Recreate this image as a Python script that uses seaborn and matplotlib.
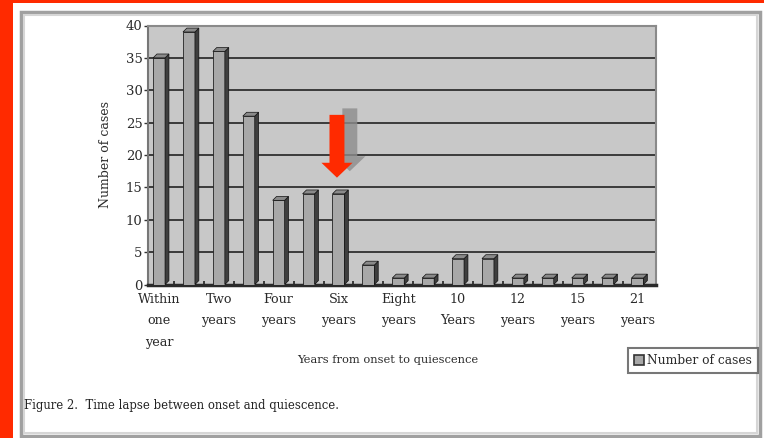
import matplotlib
matplotlib.use("Agg")
import matplotlib.pyplot as plt
from matplotlib.patches import Rectangle, Polygon, FancyArrow, Patch
import pandas as pd
import seaborn as sns

# Time from onset to quiescence (one bar per period)
periods = ["Within one year", "One year", "Two years", "Three years", "Four years",
           "Five years", "Six years", "Seven years", "Eight years", "Nine years",
           "10 Years", "11 years", "12 years", "13 years", "15 years", "18 years",
           "21 years"]
cases = [35, 39, 36, 26, 13, 14, 14, 3, 1, 1, 4, 4, 1, 1, 1, 1, 1]
tick_labels = ["Within\none\nyear", "", "Two\nyears", "", "Four\nyears", "",
               "Six\nyears", "", "Eight\nyears", "", "10\nYears", "",
               "12\nyears", "", "15\nyears", "", "21\nyears"]
y_ticks = [0, 5, 10, 15, 20, 25, 30, 35, 40]
highlight_period = "Six years"

df = pd.DataFrame({"period": periods, "cases": cases})

sns.set_theme(style="white")
plt.rcParams["font.family"] = ["DejaVu Serif", "Liberation Serif"]

TXT = "#2a2a2a"
W, H = 764, 438
fig = plt.figure(figsize=(W / 100, H / 100), dpi=100, facecolor="white")

# page decoration: red margin and bevelled frame
fig.patches.append(Rectangle((0, 0), 13 / W, 1, transform=fig.transFigure,
                             facecolor="#ff2a00", edgecolor="none", zorder=0))
fig.patches.append(Rectangle((0, 1 - 3 / H), 1, 3 / H, transform=fig.transFigure,
                             facecolor="#ff2a00", edgecolor="none", zorder=0))
fig.patches.append(Rectangle((21 / W, 2 / H), 739 / W, (H - 14) / H,
                             transform=fig.transFigure, facecolor="none",
                             edgecolor="#a0a0a0", linewidth=2.5, zorder=0))
fig.patches.append(Rectangle((24 / W, 5 / H), 733 / W, (H - 20) / H,
                             transform=fig.transFigure, facecolor="none",
                             edgecolor="#d6d6d6", linewidth=1.5, zorder=0))

ax = fig.add_axes([148 / W, 1 - 284.5 / H, (656 - 148) / W, (284.5 - 25.5) / H])
ax.set_facecolor("#c8c8c8")

sns.barplot(data=df, x="period", y="cases", order=periods, color="#a8a8a8",
            width=0.40, saturation=1, edgecolor="#222222", linewidth=0.6,
            ax=ax, zorder=3, label="Number of cases", legend=False)

ax.set_xlim(-0.37, 16.62)
ax.set_ylim(0, 40)

# depth faces for the 3-D look
dx, dy = 0.13, 0.6
for p in ax.patches[:len(cases)]:
    x0, w, h = p.get_x(), p.get_width(), p.get_height()
    side = [(x0 + w, 0), (x0 + w + dx, dy), (x0 + w + dx, h + dy), (x0 + w, h)]
    top = [(x0, h), (x0 + dx, h + dy), (x0 + w + dx, h + dy), (x0 + w, h)]
    ax.add_patch(Polygon(side, closed=True, facecolor="#3e3e3e",
                         edgecolor="#111111", linewidth=0.5, zorder=3))
    ax.add_patch(Polygon(top, closed=True, facecolor="#8a8a8a",
                         edgecolor="#111111", linewidth=0.5, zorder=3))

# grid lines and axis styling
ax.set_yticks(y_ticks)
ax.yaxis.grid(True, color="#303030", linewidth=1.3, zorder=1)
ax.set_axisbelow(True)
for s in ["top", "right"]:
    ax.spines[s].set_color("#8a8a8a")
    ax.spines[s].set_linewidth(1.5)
ax.spines["left"].set_color("#777777")
ax.spines["left"].set_linewidth(1.5)
ax.spines["bottom"].set_color("#2a2a2a")
ax.spines["bottom"].set_linewidth(2.5)

ax.set_xticks(range(len(periods)))
ax.set_xticklabels(tick_labels, fontsize=9.2, color=TXT,
                   linespacing=1.85, va="top")
ax.set_xticks([i + 0.5 for i in range(len(periods) - 1)], minor=True)
ax.tick_params(axis="x", which="major", length=0, pad=6)
ax.tick_params(axis="x", which="minor", length=3, direction="in",
               color="#222222", width=1.2, bottom=True)
ax.tick_params(axis="y", length=3, color="#333333", width=1, left=True,
               labelsize=9.5, labelcolor=TXT, pad=1)
ax.set_xlabel("")
ax.set_ylabel("Number of cases", fontsize=9, color=TXT, labelpad=10)

# arrow pointing at the highlighted period
xi = periods.index(highlight_period)
ax.add_patch(FancyArrow(xi + 0.38, 27.2, 0, -9.7, width=0.5, head_width=1.04,
                        head_length=2.3, length_includes_head=True,
                        facecolor="#8c8c8c", edgecolor="none", alpha=0.8,
                        zorder=5))
ax.add_patch(FancyArrow(xi - 0.05, 26.2, 0, -9.7, width=0.5, head_width=1.04,
                        head_length=2.3, length_includes_head=True,
                        facecolor="#ff2a00", edgecolor="none", zorder=6))

fig.text(388 / W, 1 - 360 / H, "Years from onset to quiescence", ha="center",
         va="center", fontsize=8.2, color=TXT)

leg = fig.legend(handles=[Patch(facecolor="#a8a8a8", edgecolor="#333333",
                                linewidth=1.2, label="Number of cases")],
                 loc="center", bbox_to_anchor=(693 / W, 1 - 360.5 / H),
                 bbox_transform=fig.transFigure, fontsize=8.8, frameon=True,
                 fancybox=False, handlelength=0.85, handleheight=0.85,
                 handletextpad=0.25, borderpad=0.5, borderaxespad=0)
leg.get_frame().set_edgecolor("#555555")
leg.get_frame().set_linewidth(1.5)
for t in leg.get_texts():
    t.set_color(TXT)

fig.text(24 / W, 1 - 405 / H, "Figure 2.  Time lapse between onset and quiescence.",
         ha="left", va="center", fontsize=8.4, color="#222222")

fig.savefig("out.png", dpi=100, facecolor=fig.get_facecolor())
